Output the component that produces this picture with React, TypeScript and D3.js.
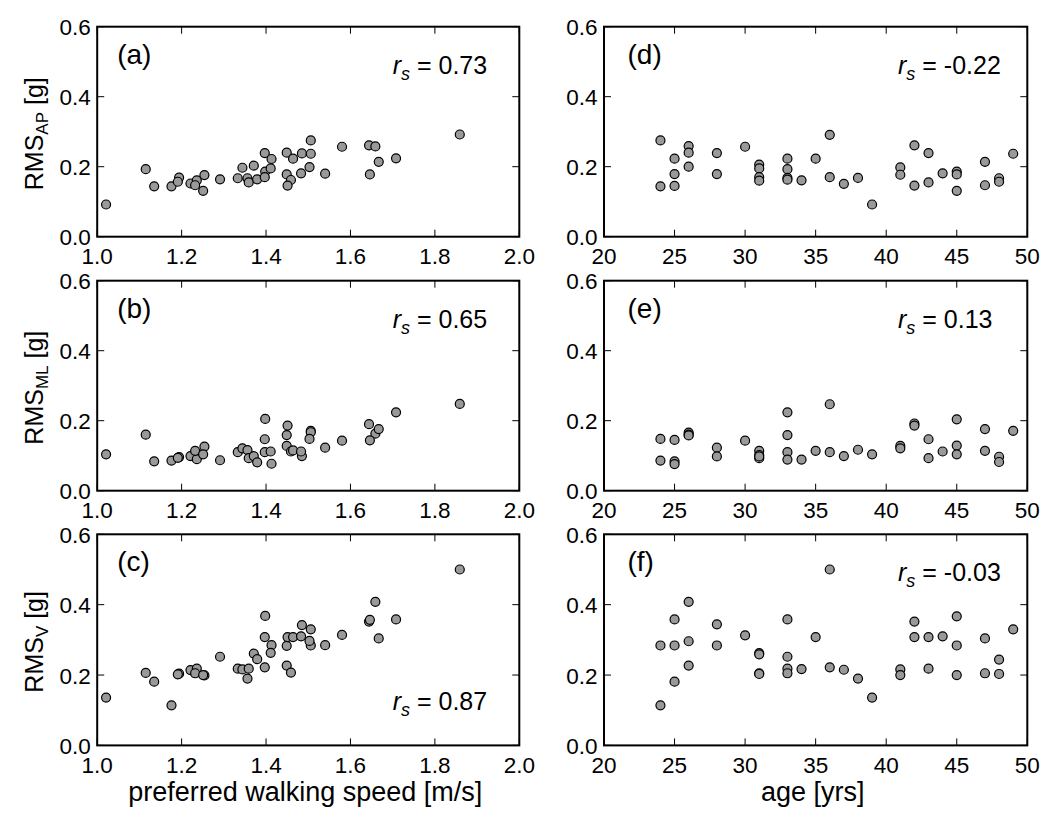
import React from 'react';
import * as d3 from 'd3';

// ---- data ----
const speed = [1.021, 1.115, 1.135, 1.176, 1.194, 1.191, 1.221, 1.236, 1.232, 1.254, 1.251, 1.291, 1.333, 1.344, 1.356, 1.359, 1.371, 1.379, 1.397, 1.398, 1.397, 1.413, 1.411, 1.449, 1.449, 1.459, 1.451, 1.464, 1.485, 1.483, 1.506, 1.506, 1.503, 1.54, 1.58, 1.644, 1.659, 1.667, 1.646, 1.708, 1.859];
const apBySpeed = [0.092, 0.193, 0.144, 0.144, 0.169, 0.157, 0.152, 0.161, 0.147, 0.176, 0.131, 0.164, 0.167, 0.197, 0.167, 0.155, 0.203, 0.164, 0.239, 0.186, 0.17, 0.222, 0.195, 0.24, 0.178, 0.162, 0.146, 0.223, 0.238, 0.181, 0.275, 0.237, 0.199, 0.18, 0.257, 0.261, 0.258, 0.214, 0.178, 0.224, 0.292];
const mlBySpeed = [0.104, 0.16, 0.084, 0.086, 0.096, 0.094, 0.099, 0.09, 0.114, 0.126, 0.104, 0.087, 0.11, 0.121, 0.116, 0.093, 0.099, 0.081, 0.147, 0.205, 0.11, 0.077, 0.112, 0.159, 0.128, 0.112, 0.186, 0.115, 0.099, 0.112, 0.171, 0.167, 0.148, 0.123, 0.143, 0.19, 0.163, 0.176, 0.144, 0.224, 0.248];
const vBySpeed = [0.136, 0.206, 0.181, 0.114, 0.204, 0.202, 0.214, 0.218, 0.205, 0.199, 0.2, 0.252, 0.218, 0.216, 0.19, 0.218, 0.261, 0.245, 0.308, 0.368, 0.222, 0.285, 0.263, 0.283, 0.227, 0.207, 0.308, 0.308, 0.342, 0.31, 0.33, 0.284, 0.297, 0.285, 0.314, 0.352, 0.408, 0.304, 0.357, 0.358, 0.5];

const age = [24, 24, 25, 25, 25, 26, 26, 26, 28, 28, 30, 31, 31, 31, 31, 33, 33, 33, 33, 34, 35, 36, 36, 37, 38, 39, 41, 41, 42, 42, 43, 43, 44, 45, 45, 45, 47, 47, 48, 48, 49];
const apByAge = [0.275, 0.144, 0.223, 0.179, 0.145, 0.259, 0.24, 0.2, 0.239, 0.179, 0.257, 0.206, 0.195, 0.17, 0.16, 0.223, 0.193, 0.168, 0.163, 0.161, 0.223, 0.291, 0.17, 0.151, 0.168, 0.092, 0.198, 0.177, 0.261, 0.146, 0.239, 0.155, 0.181, 0.186, 0.178, 0.131, 0.214, 0.147, 0.167, 0.157, 0.237];
const mlByAge = [0.148, 0.086, 0.145, 0.084, 0.076, 0.166, 0.16, 0.158, 0.123, 0.098, 0.143, 0.114, 0.102, 0.093, 0.098, 0.224, 0.159, 0.11, 0.089, 0.089, 0.114, 0.247, 0.11, 0.099, 0.117, 0.104, 0.128, 0.121, 0.192, 0.186, 0.147, 0.093, 0.112, 0.204, 0.129, 0.104, 0.176, 0.114, 0.097, 0.082, 0.171];
const vByAge = [0.284, 0.114, 0.358, 0.284, 0.181, 0.408, 0.296, 0.227, 0.344, 0.284, 0.313, 0.262, 0.259, 0.205, 0.203, 0.358, 0.252, 0.218, 0.205, 0.217, 0.308, 0.5, 0.222, 0.215, 0.19, 0.136, 0.216, 0.2, 0.352, 0.308, 0.308, 0.218, 0.31, 0.367, 0.284, 0.2, 0.304, 0.205, 0.244, 0.203, 0.33];

const speedTicks = [1.0, 1.2, 1.4, 1.6, 1.8, 2.0];
const ageTicks = [20, 25, 30, 35, 40, 45, 50];
const rmsTicks = [0, 0.2, 0.4, 0.6];
const panelLetters = ['(a)', '(b)', '(c)', '(d)', '(e)', '(f)'];
const rsValues = ['0.73', '0.65', '0.87', '-0.22', '0.13', '-0.03'];
const ySubs = ['AP', 'ML', 'V'];
const xTitles = ['preferred walking speed [m/s]', 'age [yrs]'];

// ---- layout ----
const W = 1063;
const H = 827;
const FONT = '"Liberation Sans", Arial, Helvetica, sans-serif';
const cols = [
  { x0: 97.2, x1: 519.3, letterDx: 20, rsDx: 295.5 },
  { x0: 604, x1: 1027.3, letterDx: 23.5, rsDx: 294 },
];
const rows = [
  { top: 26.7, bottom: 236.7 },
  { top: 280.7, bottom: 490.7 },
  { top: 534.3, bottom: 745.4 },
];
const TICK = 7;
const TICK_FS = 22.5;

type PanelProps = {
  col: number;
  row: number;
  xs: number[];
  ys: number[];
  xDomain: [number, number];
  xTicks: number[];
  xFmt: (v: number) => string;
  letter: string;
  rs: string;
  rsBottom: boolean;
};

function Panel({ col, row, xs, ys, xDomain, xTicks, xFmt, letter, rs, rsBottom }: PanelProps) {
  const c = cols[col];
  const r = rows[row];
  const x = d3.scaleLinear().domain(xDomain).range([c.x0, c.x1]);
  const y = d3.scaleLinear().domain([0, 0.6]).range([r.bottom, r.top]);
  const yFmt = d3.format('.1f');
  const rsY = rsBottom ? r.bottom - 35 : r.top + 47;
  return (
    <g>
      {ys.map((v, i) => (
        <circle key={i} cx={x(xs[i])} cy={y(v)} r={4.5} fill="#999999" stroke="#000" strokeWidth={1.2} />
      ))}
      {xTicks.map((t, i) => (
        <g key={'xt' + i}>
          <line x1={x(t)} x2={x(t)} y1={r.bottom} y2={r.bottom - TICK} stroke="#000" strokeWidth={1} />
          <line x1={x(t)} x2={x(t)} y1={r.top} y2={r.top + TICK} stroke="#000" strokeWidth={1} />
          <text x={x(t)} y={r.bottom + 27.5} textAnchor="middle" fontSize={TICK_FS} fontFamily={FONT} fill="#000">
            {xFmt(t)}
          </text>
        </g>
      ))}
      {rmsTicks.map((t, i) => (
        <g key={'yt' + i}>
          <line x1={c.x0} x2={c.x0 + TICK} y1={y(t)} y2={y(t)} stroke="#000" strokeWidth={1} />
          <line x1={c.x1} x2={c.x1 - TICK} y1={y(t)} y2={y(t)} stroke="#000" strokeWidth={1} />
          <text x={c.x0 - 6.5} y={y(t) + 8.5} textAnchor="end" fontSize={TICK_FS} fontFamily={FONT} fill="#000">
            {yFmt(t)}
          </text>
        </g>
      ))}
      <rect x={c.x0} y={r.top} width={c.x1 - c.x0} height={r.bottom - r.top} fill="none" stroke="#000" strokeWidth={2} />
      <text x={c.x0 + c.letterDx} y={r.top + 37} fontSize={28} fontFamily={FONT} fill="#000">
        {letter}
      </text>
      <text x={c.x0 + c.rsDx} y={rsY} fontSize={25} fontFamily={FONT} fill="#000">
        <tspan fontStyle="italic">r</tspan>
        <tspan fontStyle="italic" fontSize={18} dy={6}>s</tspan>
        <tspan dy={-6}>{' = ' + rs}</tspan>
      </text>
    </g>
  );
}

export default function App() {
  const leftY = [apBySpeed, mlBySpeed, vBySpeed];
  const rightY = [apByAge, mlByAge, vByAge];
  return (
    <svg width={W} height={H} style={{ position: 'absolute', left: 0, top: 0, background: '#fff' }} fontFamily={FONT}>
      <rect x={0} y={0} width={W} height={H} fill="#fff" />
      {leftY.map((ys, i) => (
        <Panel key={'l' + i} col={0} row={i} xs={speed} ys={ys} xDomain={[1, 2]} xTicks={speedTicks}
          xFmt={d3.format('.1f')} letter={panelLetters[i]} rs={rsValues[i]} rsBottom={i === 2} />
      ))}
      {rightY.map((ys, i) => (
        <Panel key={'r' + i} col={1} row={i} xs={age} ys={ys} xDomain={[20, 50]} xTicks={ageTicks}
          xFmt={d3.format('d')} letter={panelLetters[3 + i]} rs={rsValues[3 + i]} rsBottom={false} />
      ))}
      {rows.map((r, i) => (
        <text key={'yl' + i} transform={`translate(43,${(r.top + r.bottom) / 2 + 2}) rotate(-90)`} textAnchor="middle"
          fontSize={25} fontFamily={FONT} fill="#000">
          RMS
          <tspan fontSize={17} dy={5}>{ySubs[i]}</tspan>
          <tspan dy={-5}>{' [g]'}</tspan>
        </text>
      ))}
      {cols.map((c, i) => (
        <text key={'xl' + i} x={(c.x0 + c.x1) / 2 - 3} y={801} textAnchor="middle" fontSize={27} fontFamily={FONT} fill="#000">
          {xTitles[i]}
        </text>
      ))}
    </svg>
  );
}
